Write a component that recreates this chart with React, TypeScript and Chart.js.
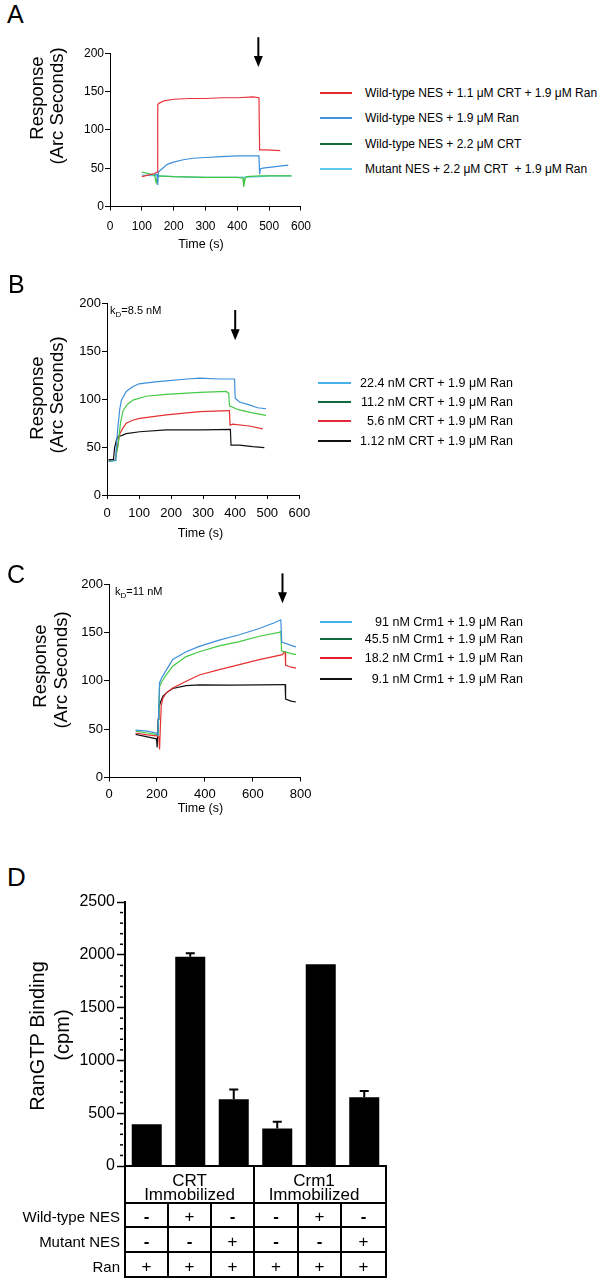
import React, { useEffect, useRef } from "react";
import { Chart, registerables } from "chart.js";

Chart.register(...registerables);

const FONT = '"Liberation Sans", Arial, Helvetica, sans-serif';

// ---------------- Panel A ----------------
const aLabels = [
  "Wild-type NES + 1.1 μM CRT + 1.9 μM Ran",
  "Wild-type NES + 1.9 μM Ran",
  "Wild-type NES + 2.2 μM CRT",
  "Mutant NES + 2.2 μM CRT  + 1.9 μM Ran",
];
const aLineColors = ["#e8333a", "#3d8fd9", "#3ec43e", "#57c7ee"];
const aLegendColors = ["#e32a2a", "#3d94dc", "#0f6b3d", "#5ccaf0"];
const aRedTime = [100, 120, 140, 148, 150, 155, 170, 200, 250, 300, 350, 400, 450, 468, 470, 490, 535];
const aRedResp = [39, 41, 43, 45, 133, 135, 138, 140, 141, 141, 142, 142, 143, 142, 74, 74, 73];
const aBlueTime = [140, 148, 150, 152, 160, 180, 200, 230, 260, 300, 350, 400, 440, 468, 470, 472, 480, 520, 560];
const aBlueResp = [42, 42, 28, 45, 48, 55, 58, 61, 63, 64, 65, 66, 66, 66, 42, 49, 50, 52, 54];
const aGreenTime = [100, 120, 140, 145, 150, 200, 300, 400, 418, 420, 425, 430, 470, 500, 570];
const aGreenResp = [45, 43, 41, 31, 40, 39, 38, 38, 37, 26, 37, 39, 40, 40, 40];
const aCyanTime = [100, 150, 200, 300, 400, 470, 500, 570];
const aCyanResp = [41, 40, 39, 38, 38, 39, 40, 40];

// ---------------- Panel B ----------------
const bLabels = [
  "22.4 nM CRT + 1.9 μM Ran",
  "11.2 nM CRT + 1.9 μM Ran",
  "5.6 nM CRT + 1.9 μM Ran",
  "1.12 nM CRT + 1.9 μM Ran",
];
const bLineColors = ["#3d8fd9", "#44c944", "#e53030", "#111111"];
const bLegendColors = ["#47b1ec", "#0f6b3d", "#e32a3a", "#111111"];
const bBlueTime = [5, 25, 28, 34, 40, 45, 60, 80, 100, 150, 185, 250, 290, 350, 398, 400, 413, 444, 470, 496];
const bBlueResp = [35, 36, 45, 71, 90, 99, 108, 113, 116, 118, 119, 121, 122, 121, 121, 101, 97, 94, 91, 90];
const bGreenTime = [5, 25, 30, 34, 42, 50, 65, 81, 122, 185, 289, 372, 380, 382, 410, 450, 496];
const bGreenResp = [35, 36, 44, 50, 75, 88, 95, 99, 103, 105, 107, 108, 106, 93, 89, 86, 83];
const bRedTime = [5, 25, 30, 35, 40, 50, 60, 80, 102, 185, 289, 380, 382, 384, 392, 444, 486];
const bRedResp = [36, 36, 45, 55, 64, 70, 75, 78, 80, 83.5, 87, 88, 88, 73, 74, 72, 69];
const bBlackTime = [5, 20, 24, 30, 34, 45, 60, 102, 185, 300, 385, 387, 395, 413, 455, 491];
const bBlackResp = [37, 37, 50, 58, 61, 62, 64, 66, 68, 68, 68.5, 52, 52, 52, 50.5, 49.5];

// ---------------- Panel C ----------------
const cLabels = [
  "91 nM Crm1 + 1.9 μM Ran",
  "45.5 nM Crm1 + 1.9 μM Ran",
  "18.2 nM Crm1 + 1.9 μM Ran",
  "9.1 nM Crm1 + 1.9 μM Ran",
];
const cLineColors = ["#3d8fd9", "#44c944", "#e53030", "#111111"];
const cLegendColors = ["#47b1ec", "#0f6b3d", "#e3202a", "#111111"];
const cBlueTime = [111, 160, 197, 204, 211, 220, 239, 266, 322, 377, 460, 544, 627, 690, 717, 721, 766, 780];
const cBlueResp = [49, 48, 46, 44, 98, 103, 111, 122, 130, 135.5, 142, 147.5, 154, 160, 163, 140, 136, 135];
const cGreenTime = [111, 160, 197, 205, 211, 220, 239, 266, 322, 377, 460, 544, 627, 710, 717, 720, 760, 780];
const cGreenResp = [48, 46, 44.5, 44, 94, 99, 106, 115, 125, 130, 136, 140.5, 146, 150, 151, 131, 128, 127];
const cRedTime = [111, 160, 200, 208, 211, 214, 218, 225, 239, 266, 322, 377, 460, 544, 627, 724, 731, 735, 737, 760, 780];
const cRedResp = [46, 44, 43, 42, 29, 50, 74, 82, 87.5, 92.6, 99.5, 106, 111.5, 116.6, 121.8, 127, 130, 130, 116, 114, 113];
const cBlackTime = [111, 160, 198, 201, 205, 208, 215, 225, 239, 266, 322, 377, 516, 731, 735, 737, 760, 780];
const cBlackResp = [44.5, 42, 40, 31, 60, 72, 78, 84, 87.5, 92, 95, 95.7, 95.4, 96, 96, 81, 79, 78];

// ---------------- Panel D ----------------
const dCategories = ["CRT 1", "CRT 2", "CRT 3", "Crm1 1", "Crm1 2", "Crm1 3"];
const dBinding = [395, 1982, 632, 355, 1910, 652];
const dError = [0, 33, 93, 65, 0, 58];
const dGroups = ["CRT\nImmobilized", "Crm1\nImmobilized"];
const dRowLabels = ["Wild-type NES", "Mutant NES", "Ran"];
const wildTypeNES = ["-", "+", "-", "-", "+", "-"];
const mutantNES = ["-", "-", "+", "-", "-", "+"];
const ranAdded = ["+", "+", "+", "+", "+", "+"];

type Series = { label: string; time: number[]; resp: number[]; color: string };
type Arrow = { t: number; top: number; bottom: number };
type LineOpts = {
  xMax: number; xStep: number; padTop: number; padRight: number; yWidth: number;
  xHeight: number; xPad: number; tickSize: number; arrow: Arrow;
};

const plain = (v: any) => String(v);

function arrowPlugin(a: Arrow) {
  return {
    id: "arrowMark",
    afterDraw(chart: any) {
      const { ctx } = chart;
      const x = chart.scales.x, y = chart.scales.y;
      const px = x.getPixelForValue(a.t);
      const y1 = y.getPixelForValue(a.top);
      const y2 = y.getPixelForValue(a.bottom);
      ctx.save();
      ctx.strokeStyle = "#000";
      ctx.fillStyle = "#000";
      ctx.lineWidth = 2;
      ctx.beginPath();
      ctx.moveTo(px, y1);
      ctx.lineTo(px, y2 - 9);
      ctx.stroke();
      ctx.beginPath();
      ctx.moveTo(px - 4.5, y2 - 11);
      ctx.lineTo(px + 4.5, y2 - 11);
      ctx.lineTo(px, y2);
      ctx.closePath();
      ctx.fill();
      ctx.restore();
    },
  };
}

function lineConfig(series: Series[], o: LineOpts): any {
  return {
    type: "line",
    data: {
      datasets: series.map((s) => ({
        label: s.label,
        data: s.time.map((t, i) => ({ x: t, y: s.resp[i] })),
        borderColor: s.color,
        backgroundColor: s.color,
        borderWidth: 1.2,
        pointRadius: 0,
        tension: 0,
        fill: false,
      })),
    },
    options: {
      responsive: false,
      animation: false,
      events: [],
      layout: { padding: { top: o.padTop, right: o.padRight, left: 0, bottom: 0 } },
      plugins: { legend: { display: false }, tooltip: { enabled: false } },
      scales: {
        x: {
          type: "linear",
          min: 0,
          max: o.xMax,
          ticks: { stepSize: o.xStep, color: "#000", font: { family: FONT, size: o.tickSize }, padding: o.xPad, maxRotation: 0, autoSkip: false, callback: plain },
          grid: { drawOnChartArea: false, tickLength: 4, color: "#000" },
          border: { color: "#000", width: 1 },
          afterFit: (s: any) => { s.height = o.xHeight; },
        },
        y: {
          min: 0,
          max: 200,
          ticks: { stepSize: 50, color: "#000", font: { family: FONT, size: o.tickSize }, padding: 1, callback: plain },
          grid: { drawOnChartArea: false, tickLength: 5, color: "#000" },
          border: { color: "#000", width: 1 },
          afterFit: (s: any) => { s.width = o.yWidth; },
        },
      },
    },
    plugins: [arrowPlugin(o.arrow)],
  };
}

const errorPlugin = {
  id: "errorBars",
  afterDatasetsDraw(chart: any) {
    const { ctx } = chart;
    const x = chart.scales.x, y = chart.scales.y;
    ctx.save();
    ctx.strokeStyle = "#000";
    ctx.lineWidth = 2;
    dBinding.forEach((v, i) => {
      const e = dError[i];
      if (!e) return;
      const px = x.getPixelForValue(i);
      const top = y.getPixelForValue(v + e);
      ctx.beginPath();
      ctx.moveTo(px, y.getPixelForValue(v));
      ctx.lineTo(px, top);
      ctx.moveTo(px - 4.5, top);
      ctx.lineTo(px + 4.5, top);
      ctx.stroke();
    });
    ctx.restore();
  },
};

const minorTickPlugin = {
  id: "minorTicks",
  afterDraw(chart: any) {
    const { ctx } = chart;
    const y = chart.scales.y;
    const left = chart.chartArea.left;
    ctx.save();
    ctx.strokeStyle = "#000";
    ctx.lineWidth = 1.5;
    for (let v = y.min; v <= y.max; v += 100) {
      if (v % 500 === 0) continue;
      const py = y.getPixelForValue(v);
      ctx.beginPath();
      ctx.moveTo(left - 5, py);
      ctx.lineTo(left - 2, py);
      ctx.stroke();
    }
    ctx.restore();
  },
};

function barConfig(): any {
  return {
    type: "bar",
    data: {
      labels: dCategories,
      datasets: [{ data: dBinding, backgroundColor: "#000", borderWidth: 0, barPercentage: 0.69, categoryPercentage: 1 }],
    },
    options: {
      responsive: false,
      animation: false,
      events: [],
      layout: { padding: { top: 22, right: 14, left: 0, bottom: 0 } },
      plugins: { legend: { display: false }, tooltip: { enabled: false } },
      scales: {
        x: {
          ticks: { display: false },
          grid: { display: false, drawTicks: false },
          border: { color: "#000", width: 2 },
          afterFit: (s: any) => { s.height = 14; },
        },
        y: {
          min: 0,
          max: 2500,
          ticks: { stepSize: 500, color: "#000", font: { family: FONT, size: 16 }, padding: 2, callback: plain },
          grid: { drawOnChartArea: false, tickLength: 8, color: "#000", tickWidth: 1.5 },
          border: { color: "#000", width: 2 },
          afterFit: (s: any) => { s.width = 125; },
        },
      },
    },
    plugins: [errorPlugin, minorTickPlugin],
  };
}

function ChartBox({ left, top, width, height, config }: { left: number; top: number; width: number; height: number; config: () => any }) {
  const ref = useRef<HTMLCanvasElement>(null);
  useEffect(() => {
    const chart = new Chart(ref.current as HTMLCanvasElement, config());
    return () => chart.destroy();
  }, []);
  return (
    <canvas
      ref={ref}
      width={width}
      height={height}
      style={{ position: "absolute", left, top, width, height, display: "block" }}
    />
  );
}

function Txt({ x, y, size, align = "center", weight = "normal", children }: any) {
  const tx = align === "center" ? "-50%" : align === "right" ? "-100%" : "0";
  return (
    <div
      style={{
        position: "absolute", left: x, top: y, transform: `translate(${tx},-50%)`,
        fontSize: size, lineHeight: `${size}px`, fontFamily: FONT, whiteSpace: "pre",
        color: "#000", fontWeight: weight,
      }}
    >
      {children}
    </div>
  );
}

function VTxt({ x, y, size, children }: any) {
  return (
    <div
      style={{
        position: "absolute", left: x, top: y, transform: "translate(-50%,-50%) rotate(-90deg)",
        fontSize: size, lineHeight: `${size}px`, fontFamily: FONT, whiteSpace: "pre", color: "#000",
      }}
    >
      {children}
    </div>
  );
}

function Legend({ labels, colors, rows, x1, x2, textX, align, size }: any) {
  return (
    <>
      {labels.map((l: string, i: number) => (
        <React.Fragment key={i}>
          <div style={{ position: "absolute", left: x1, top: rows[i] - 1, width: x2 - x1, height: 2, background: colors[i] }} />
          <Txt x={textX} y={rows[i]} size={size} align={align}>{l}</Txt>
        </React.Fragment>
      ))}
    </>
  );
}

function KD({ x, y, value }: any) {
  return (
    <div style={{ position: "absolute", left: x, top: y, transform: "translate(0,-50%)", fontFamily: FONT, fontSize: 11, lineHeight: "11px", whiteSpace: "pre", color: "#000" }}>
      k<span style={{ fontSize: 8, position: "relative", top: 3 }}>D</span>={value}
    </div>
  );
}

function HLine({ x1, x2, y }: any) {
  return <div style={{ position: "absolute", left: x1, top: y - 1, width: x2 - x1, height: 2, background: "#000" }} />;
}
function VLine({ x, y1, y2 }: any) {
  return <div style={{ position: "absolute", left: x - 1, top: y1, width: 2, height: y2 - y1, background: "#000" }} />;
}

export default function App() {
  const aSeries: Series[] = [
    { label: aLabels[0], time: aRedTime, resp: aRedResp, color: aLineColors[0] },
    { label: aLabels[1], time: aBlueTime, resp: aBlueResp, color: aLineColors[1] },
    { label: aLabels[2], time: aGreenTime, resp: aGreenResp, color: aLineColors[2] },
    { label: aLabels[3], time: aCyanTime, resp: aCyanResp, color: aLineColors[3] },
  ];
  const bSeries: Series[] = [
    { label: bLabels[0], time: bBlueTime, resp: bBlueResp, color: bLineColors[0] },
    { label: bLabels[1], time: bGreenTime, resp: bGreenResp, color: bLineColors[1] },
    { label: bLabels[2], time: bRedTime, resp: bRedResp, color: bLineColors[2] },
    { label: bLabels[3], time: bBlackTime, resp: bBlackResp, color: bLineColors[3] },
  ];
  const cSeries: Series[] = [
    { label: cLabels[0], time: cBlueTime, resp: cBlueResp, color: cLineColors[0] },
    { label: cLabels[1], time: cGreenTime, resp: cGreenResp, color: cLineColors[1] },
    { label: cLabels[2], time: cRedTime, resp: cRedResp, color: cLineColors[2] },
    { label: cLabels[3], time: cBlackTime, resp: cBlackResp, color: cLineColors[3] },
  ];

  const colX = [125, 168, 211, 254, 298, 341, 386];
  const rowY = [1203, 1227, 1252, 1277];
  const signRows = [wildTypeNES, mutantNES, ranAdded];

  return (
    <div style={{ position: "absolute", left: 0, top: 0, width: 611, height: 1280, background: "#fff", fontFamily: FONT, overflow: "hidden" }}>
      {/* Panel A */}
      <Txt x={7} y={14} size={25} align="left">A</Txt>
      <ChartBox left={0} top={0} width={320} height={240}
        config={() => lineConfig(aSeries, { xMax: 600, xStep: 100, padTop: 53.3, padRight: 16.7, yWidth: 110, xHeight: 33.5, xPad: 9, tickSize: 12, arrow: { t: 466, top: 221, bottom: 182 } })} />
      <VTxt x={37} y={98} size={18.5}>Response</VTxt>
      <VTxt x={57} y={106} size={18.5}>(Arc Seconds)</VTxt>
      <Txt x={201} y={243.5} size={12.5}>Time (s)</Txt>
      <Legend labels={aLabels} colors={aLegendColors} rows={[93.3, 118.3, 144, 169.3]} x1={320} x2={352} textX={365} align="left" size={12} />

      {/* Panel B */}
      <Txt x={8} y={284} size={25} align="left">B</Txt>
      <ChartBox left={0} top={260} width={320} height={280}
        config={() => lineConfig(bSeries, { xMax: 600, xStep: 100, padTop: 43.3, padRight: 20.7, yWidth: 107, xHeight: 45, xPad: 7, tickSize: 13, arrow: { t: 400, top: 193, bottom: 161.5 } })} />
      <KD x={110} y={311} value="8.5 nM" />
      <VTxt x={37} y={398} size={18.5}>Response</VTxt>
      <VTxt x={57} y={395} size={18.5}>(Arc Seconds)</VTxt>
      <Txt x={200.5} y={533} size={12.5}>Time (s)</Txt>
      <Legend labels={bLabels} colors={bLegendColors} rows={[382.7, 402, 421.3, 440.7]} x1={318} x2={351} textX={513} align="right" size={12.5} />

      {/* Panel C */}
      <Txt x={7} y={574} size={25} align="left">C</Txt>
      <ChartBox left={0} top={560} width={320} height={260}
        config={() => lineConfig(cSeries, { xMax: 800, xStep: 200, padTop: 24, padRight: 19.3, yWidth: 109, xHeight: 42.5, xPad: 5, tickSize: 13, arrow: { t: 724, top: 211, bottom: 180 } })} />
      <KD x={115} y={592} value="11 nM" />
      <VTxt x={40} y={666} size={18.5}>Response</VTxt>
      <VTxt x={61} y={670} size={18.5}>(Arc Seconds)</VTxt>
      <Txt x={200.5} y={808} size={12.5}>Time (s)</Txt>
      <Legend labels={cLabels} colors={cLegendColors} rows={[621.7, 639.3, 658.3, 679]} x1={320} x2={352} textX={523} align="right" size={12.5} />

      {/* Panel D */}
      <Txt x={7} y={877} size={26} align="left">D</Txt>
      <ChartBox left={0} top={880} width={400} height={300} config={barConfig} />
      <VTxt x={37} y={1036} size={20}>RanGTP Binding</VTxt>
      <VTxt x={62} y={1035} size={20}>(cpm)</VTxt>

      {/* Condition table */}
      {rowY.map((y, i) => <HLine key={"h" + i} x1={124} x2={387} y={y} />)}
      <VLine x={125} y1={1166} y2={1278} />
      <VLine x={254} y1={1166} y2={1278} />
      <VLine x={386} y1={1166} y2={1278} />
      {[168, 211, 298, 341].map((x, i) => <VLine key={"v" + i} x={x} y1={1203} y2={1278} />)}
      {dGroups.map((g, gi) => {
        const [l1, l2] = g.split("\n");
        const cx = gi === 0 ? 189.5 : 314;
        return (
          <React.Fragment key={g}>
            <Txt x={cx} y={1179.5} size={17}>{l1}</Txt>
            <Txt x={cx} y={1193.5} size={17}>{l2}</Txt>
          </React.Fragment>
        );
      })}
      {dRowLabels.map((l, ri) => (
        <Txt key={l} x={120} y={(rowY[ri] + rowY[ri + 1]) / 2 + 1} size={15} align="right">{l}</Txt>
      ))}
      {signRows.map((row, ri) =>
        row.map((s, ci) => (
          <Txt key={ri + "-" + ci} x={(colX[ci] + colX[ci + 1]) / 2} y={(rowY[ri] + rowY[ri + 1]) / 2 + 1} size={17} weight={s === "-" ? "bold" : "normal"}>{s}</Txt>
        ))
      )}
    </div>
  );
}
